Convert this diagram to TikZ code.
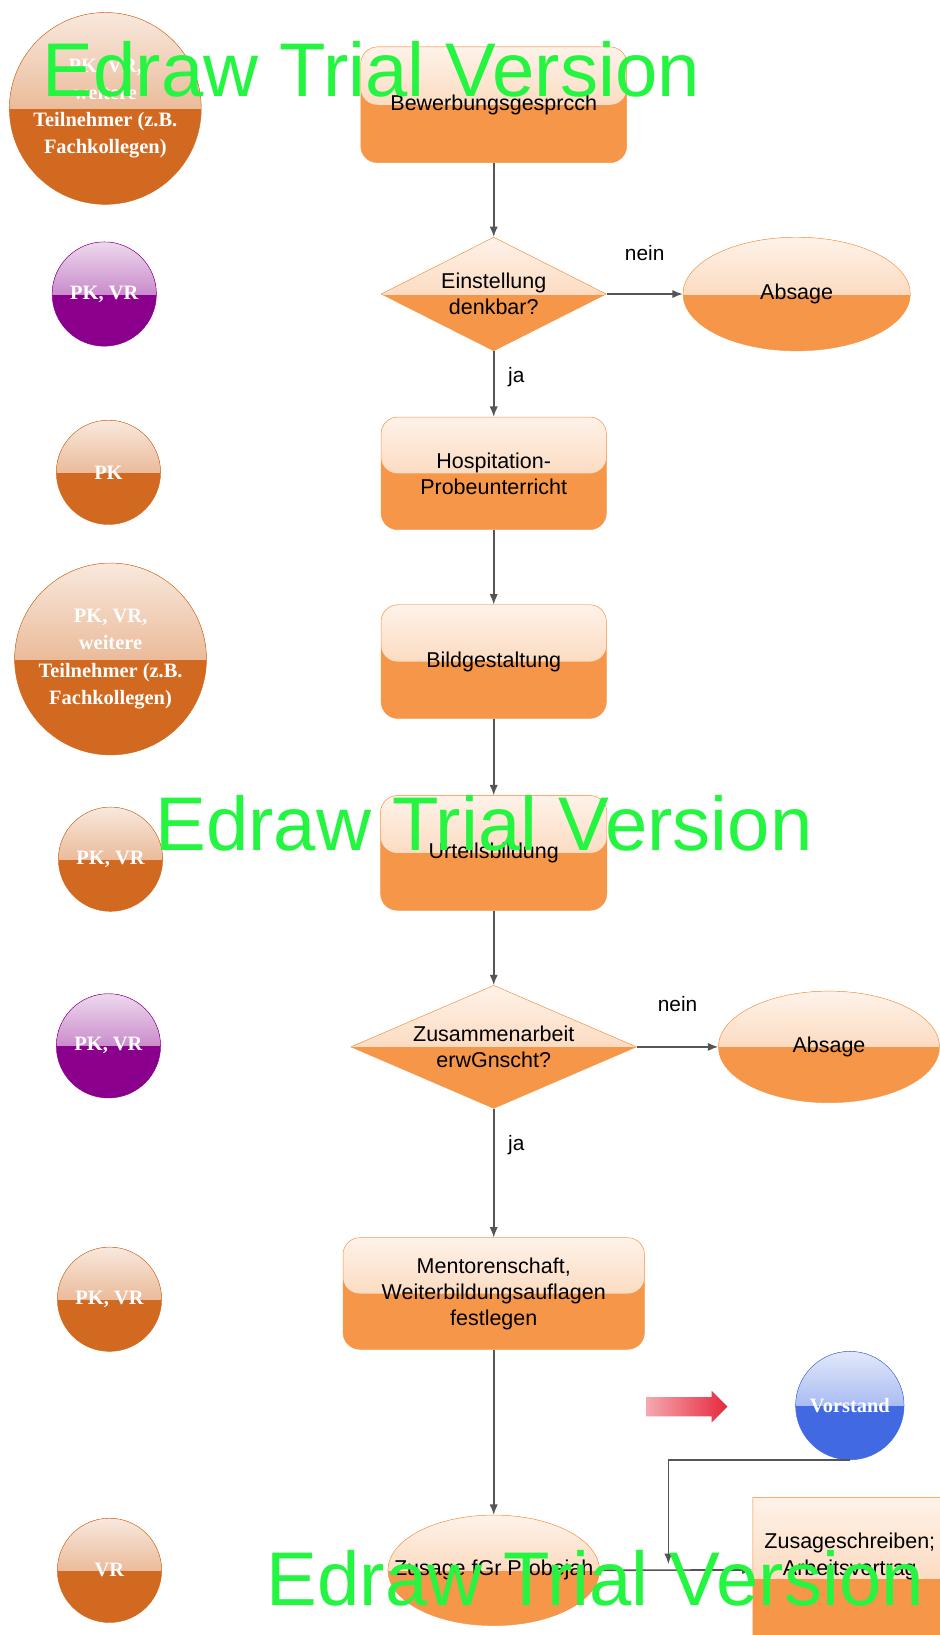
\documentclass[tikz,border=0pt]{standalone}
\usepackage{fontspec}
\setmainfont{Liberation Sans}
\newfontfamily\personfont{Liberation Serif}
\usetikzlibrary{shapes.geometric,shapes.symbols,shapes.arrows,arrows.meta,positioning}

\definecolor{boxorange}{RGB}{245,150,72}
\definecolor{rust}{RGB}{210,105,32}
\definecolor{lilac}{RGB}{138,0,140}
\definecolor{vorstblue}{RGB}{65,105,225}
\definecolor{arrowred}{RGB}{230,40,60}
\definecolor{wire}{RGB}{85,85,85}
\definecolor{trial}{RGB}{36,245,64}

\begin{document}
\begin{tikzpicture}[x=1pt,y=-1pt,
  gloss/.style={path picture={\fill[top color=#1!12!white,bottom color=#1!55!white]
      (path picture bounding box.north west) rectangle (path picture bounding box.east);}},
  shine/.style={path picture={\fill[top color=#1!15!white,bottom color=#1!75!white]
      (path picture bounding box.north west) rectangle (path picture bounding box.east);}},
  stepbox/.style={rectangle,rounded corners=16pt,draw=boxorange,fill=boxorange,gloss=boxorange,
      inner sep=0pt,align=center,font=\fontsize{20.6}{25}\selectfont},
  ask/.style={diamond,draw=boxorange,fill=boxorange,gloss=boxorange,inner sep=0pt,align=center,
      font=\fontsize{20.6}{25}\selectfont},
  endpoint/.style={ellipse,draw=boxorange,fill=boxorange,gloss=boxorange,inner sep=0pt,align=center,
      font=\fontsize{20.6}{25}\selectfont},
  person/.style={circle,draw=#1,fill=#1,shine=#1,inner sep=0pt,text=white,align=center,
      font=\personfont\bfseries\fontsize{19.6}{26}\selectfont},
  flow/.style={draw=wire,line width=1.6pt,->,>={Latex[length=10pt,width=8pt]}},
  answer/.style={inner sep=0pt,font=\fontsize{20}{24}\selectfont},
  watermark/.style={inner sep=0pt,text=trial,font=\fontsize{73}{73}\selectfont}]
  \useasboundingbox (0,0) rectangle (901,1568);

  \node (bew) [stepbox,minimum width=255pt,minimum height=111pt] at (473.5,100.5) {Bewerbungsgesprcch};
  \node (einst) [ask,minimum width=216pt,minimum height=109pt,aspect=2] at (473.5,282) {Einstellung\\denkbar?};
  \node (absage1) [endpoint,minimum width=218pt,minimum height=109pt] at (764,282) {Absage};
  \node (hosp) [stepbox,minimum width=216pt,minimum height=108pt] at (473.5,454) {Hospitation-\\Probeunterricht};
  \node (bild) [stepbox,minimum width=216pt,minimum height=109pt] at (473.5,634.5) {Bildgestaltung};
  \node (urteil) [stepbox,minimum width=217pt,minimum height=110pt] at (473.5,818) {Urteilsbildung};
  \node (zusarb) [ask,minimum width=274pt,minimum height=118pt,aspect=2.3] at (473.5,1004) {Zusammenarbeit\\erwGnscht?};
  \node (absage2) [endpoint,minimum width=212pt,minimum height=107pt] at (795,1004) {Absage};
  \node (ment) [stepbox,minimum width=289pt,minimum height=107pt] at (473.5,1240.5) {Mentorenschaft,\\Weiterbildungsauflagen\\festlegen};
  \node (zusage) [endpoint,inner xsep=-24pt,minimum width=203pt,minimum height=106pt] at (473.5,1506) {Zusage fGr Probejah};
  \node (schreib) [tape,tape bend top=none,tape bend bottom=out and in,tape bend height=14pt,
      draw=boxorange,fill=boxorange,gloss=boxorange,inner sep=0pt,align=center,text depth=30pt,
      font=\fontsize{20.6}{25}\selectfont,minimum width=186pt,minimum height=153pt] at (815,1505.5) {Zusageschreiben;\\Arbeitsvertrag};

  \node (p1) [person=rust,minimum size=184pt] at (101,104) {PK, VR,\\weitere\\Teilnehmer (z.B.\\Fachkollegen)};
  \node (p2) [person=lilac,minimum size=100pt] at (100,282) {PK, VR};
  \node (p3) [person=rust,minimum size=100pt] at (104,453) {PK};
  \node (p4) [person=rust,minimum size=184pt] at (106,632) {PK, VR,\\weitere\\Teilnehmer (z.B.\\Fachkollegen)};
  \node (p5) [person=rust,minimum size=100pt] at (106,824) {PK, VR};
  \node (p6) [person=lilac,minimum size=100pt] at (104,1003) {PK, VR};
  \node (p7) [person=rust,minimum size=100pt] at (105,1246) {PK, VR};
  \node (p8) [person=rust,minimum size=100pt] at (105,1506) {VR};
  \node (vorstand) [person=vorstblue,minimum size=104pt] at (815,1348) {Vorstand};
  \node (pfeil) [single arrow,left color=arrowred!40!white,right color=arrowred,inner sep=0pt,
      text height=9pt,text depth=9pt,minimum width=30pt,minimum height=78pt,
      single arrow head extend=6pt] at (654,1349) {};

  \draw[flow] (bew) -- (einst);
  \draw[flow] (einst) -- node[answer,above=31pt] {nein} (absage1);
  \draw[flow] (einst) -- node[answer,right=13pt,pos=0.4] {ja} (hosp);
  \draw[flow] (hosp) -- (bild);
  \draw[flow] (bild) -- (urteil);
  \draw[flow] (urteil) -- (zusarb);
  \draw[flow] (zusarb) -- node[answer,above=33pt] {nein} (absage2);
  \draw[flow] (zusarb) -- node[answer,right=13pt,pos=0.28] {ja} (ment);
  \draw[flow] (ment) -- (zusage);
  \draw[flow] (zusage) -- (schreib);
  \coordinate (drop) at (641,1500);
  \draw[flow] (vorstand.south) -| (drop);

  \node (wm1) [watermark] at (356,66) {Edraw Trial Version};
  \node (wm2) [watermark] at (464,790) {Edraw Trial Version};
  \node (wm3) [watermark] at (571,1514) {Edraw Trial Version};
\end{tikzpicture}
\end{document}
